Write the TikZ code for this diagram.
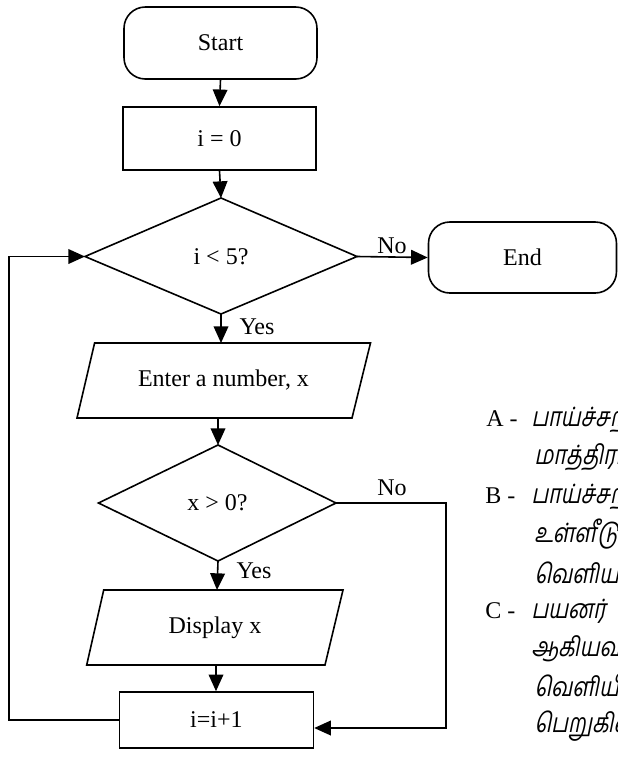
\documentclass[tikz,border=0pt]{standalone}
\usepackage{fontspec}
\setmainfont{Liberation Serif}
\newfontfamily\tamilfont[Script=Tamil,FakeSlant=0.2,FakeStretch=0.8]{Hind Madurai}
\usetikzlibrary{arrows.meta}
\newcommand\flowfont{\fontsize{18pt}{21pt}\selectfont}
\newcommand\notefont{\fontsize{18pt}{21pt}\selectfont}
\newcommand\tnotefont{\fontsize{20pt}{23pt}\selectfont}
\begin{document}
\begin{tikzpicture}[x=0.75pt,y=-0.75pt,
  arr/.style={line width=1.2pt, -{Triangle[length=12.5pt,width=11pt]}},
  shp/.style={draw, line width=1.2pt},
  term/.style={shp, rounded corners=16pt, inner sep=0pt, font=\flowfont},
  proc/.style={shp, inner sep=0pt, font=\flowfont},
  txt/.style={inner sep=0pt, font=\flowfont},
  note/.style={inner sep=0pt, anchor=west, font=\notefont},
  tnote/.style={inner sep=0pt, anchor=west, font=\tnotefont\tamilfont},
]
\useasboundingbox (0,0) rectangle (618,758);

% terminals and processes
\node[term, minimum width=144.75pt, minimum height=54pt] (start) at (220.5,43) {Start};
\node[proc, minimum width=144.75pt, minimum height=47.25pt] (init) at (219.5,138.5) {i = 0};
\node[term, minimum width=141pt, minimum height=53.25pt] (end) at (522.5,257.5) {End};
\node[proc, minimum width=145.5pt, minimum height=42pt] (inc) at (216.4,720) {i=i+1};

% decision 1
\coordinate (d1t) at (221,198);
\coordinate (d1b) at (221,314);
\coordinate (d1l) at (85,256.5);
\coordinate (d1r) at (357,256.5);
\draw[shp] (d1t) -- (d1r) -- (d1b) -- (d1l) -- cycle;
\node[txt] (d1) at (221,256.5) {i < 5?};

% input
\coordinate (p1a) at (94.6,343);
\coordinate (p1b) at (370.5,343);
\coordinate (p1c) at (352,418);
\coordinate (p1d) at (77,418);
\draw[shp] (p1a) -- (p1b) -- (p1c) -- (p1d) -- cycle;
\node[txt] (p1) at (223.5,380) {Enter a number, x};
\coordinate (p1top) at (221,343);
\coordinate (p1bot) at (218,418);

% decision 2
\coordinate (d2t) at (218,445);
\coordinate (d2b) at (218,561);
\coordinate (d2l) at (98.5,503);
\coordinate (d2r) at (336,503);
\draw[shp] (d2t) -- (d2r) -- (d2b) -- (d2l) -- cycle;
\node[txt] (d2) at (217.5,503) {x > 0?};

% output
\coordinate (p2a) at (103.7,590);
\coordinate (p2b) at (343,590);
\coordinate (p2c) at (325,665);
\coordinate (p2d) at (86.7,665);
\draw[shp] (p2a) -- (p2b) -- (p2c) -- (p2d) -- cycle;
\node[txt] (p2) at (215,627.5) {Display x};
\coordinate (p2top) at (217,590);
\coordinate (p2bot) at (216,665);

% connectors
\draw[arr] (start.south) -- (init.north);
\draw[arr] (init.south) -- (d1t);
\draw[arr] (d1r) -- (end.west);
\draw[arr] (d1b) -- (p1top);
\draw[arr] (p1bot) -- (d2t);
\draw[arr] (d2b) -- (p2top);
\draw[arr] (p2bot) -- (p2bot |- inc.north);

\coordinate (loopL) at (8.7,720);
\coordinate (loopU) at (8.7,256.5);
\draw[arr] (inc.west) -- (loopL) -- (loopU) -- (d1l);

\coordinate (noR) at (446,503);
\coordinate (noD) at (446,728);
\coordinate (noIn) at (inc.east |- noD);
\draw[arr] (d2r) -- (noR) -- (noD) -- (noIn);

% labels
\node[txt] (no1) at (392,246) {No};
\node[txt] (yes1) at (257,327) {Yes};
\node[txt] (no2) at (392,488) {No};
\node[txt] (yes2) at (254,571) {Yes};

% notes
\node[note] (na) at (486,419) {A -};
\node[tnote] (na1) at (531,419) {பாய்ச்சற்கோட்டில்};
\node[tnote] (na2) at (534,457.5) {மாத்திரம்};
\node[note] (nb) at (485,496) {B -};
\node[tnote] (nb1) at (531,496) {பாய்ச்சற்கோட்டில்};
\node[tnote] (nb2) at (534,534) {உள்ளீடு};
\node[tnote] (nb3) at (534,572.5) {வெளியான};
\node[note] (nc) at (485,611) {C -};
\node[tnote] (nc1) at (531,611) {பயனர்};
\node[tnote] (nc2) at (531,649.5) {ஆகியவற்றை};
\node[tnote] (nc3) at (534,688) {வெளியீடு};
\node[tnote] (nc4) at (534,726) {பெறுகின்றனர்};
\end{tikzpicture}
\end{document}
